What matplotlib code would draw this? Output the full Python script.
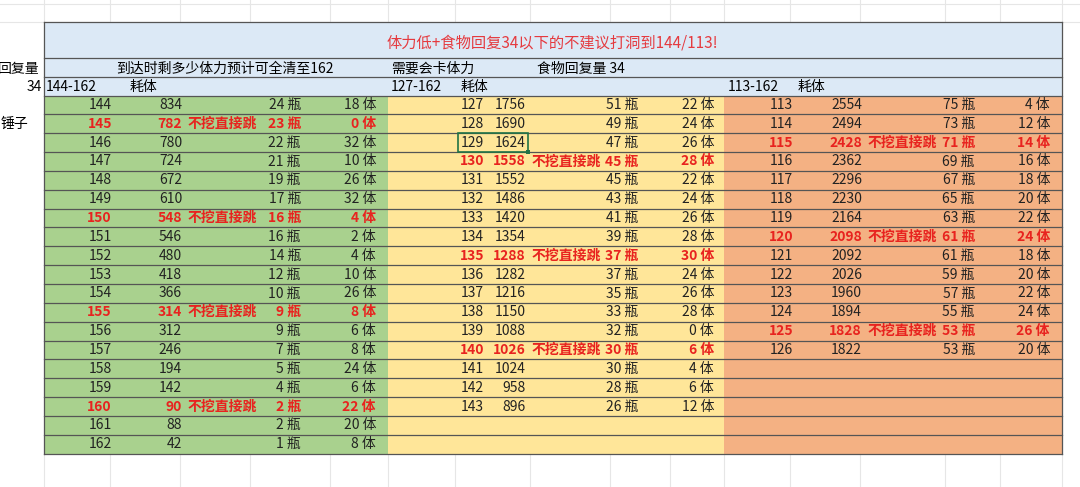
import matplotlib
matplotlib.use("Agg")
import matplotlib.pyplot as plt
from matplotlib.patches import Rectangle

plt.rcParams['font.family'] = ['Noto Sans CJK SC', 'DejaVu Sans']

title = "体力低+食物回复34以下的不建议打洞到144/113!"
skip = "不挖直接跳"

g_level = list(range(144, 163))
g_cost = [834,782,780,724,672,610,548,546,480,418,366,314,312,246,194,142,90,88,42]
g_bottle = [24,23,22,21,19,17,16,16,14,12,10,9,9,7,5,4,2,2,1]
g_rest = [18,0,32,10,26,32,4,2,4,10,26,8,6,8,24,6,22,20,8]
g_red = [145,150,155,160]

y_level = list(range(127, 144))
y_cost = [1756,1690,1624,1558,1552,1486,1420,1354,1288,1282,1216,1150,1088,1026,1024,958,896]
y_bottle = [51,49,47,45,45,43,41,39,37,37,35,33,32,30,30,28,26]
y_rest = [22,24,26,28,22,24,26,28,30,24,26,28,0,6,4,6,12]
y_red = [130,135,140]

o_level = list(range(113, 127))
o_cost = [2554,2494,2428,2362,2296,2230,2164,2098,2092,2026,1960,1894,1828,1822]
o_bottle = [75,73,71,69,67,65,63,61,61,59,57,55,53,53]
o_rest = [4,12,14,16,18,20,22,24,18,20,22,24,26,20]
o_red = [115,120,125]

W, H = 1080, 487
fig = plt.figure(figsize=(W/100, H/100), dpi=100)
ax = fig.add_axes([0, 0, 1, 1])
ax.set_xlim(0, W); ax.set_ylim(H, 0); ax.axis('off')
fig.patch.set_facecolor('white')

for gx in [44, 110, 180, 250, 330, 388, 455, 530, 610, 670, 724, 790, 860, 945, 1000, 1062]:
    ax.plot([gx, gx], [0, H], color='#e6e6e6', lw=0.8, zorder=0)
for gy in [4, 22]:
    ax.plot([0, W], [gy, gy], color='#e6e6e6', lw=0.8, zorder=0)

L, R = 44, 1062
top, r1, r2, r3 = 22, 58, 77, 95.5
rh = 18.85
nrows = 19
bottom = r3 + nrows * rh

ax.add_patch(Rectangle((L, top), R-L, r3-top, facecolor='#dce9f6', edgecolor='none', zorder=1))
sections = [(L, 388, '#a9d18e'), (388, 724, '#ffe699'), (724, R, '#f4b183')]
for x0, x1, c in sections:
    ax.add_patch(Rectangle((x0, r3), x1-x0, bottom-r3, facecolor=c, edgecolor='none', zorder=1))

lc = '#555555'
for yy in [top, r1, r2, r3] + [r3 + i*rh for i in range(1, nrows+1)]:
    ax.plot([L, R], [yy, yy], color=lc, lw=0.9, zorder=2)
ax.plot([L, L], [top, bottom], color=lc, lw=0.9, zorder=2)
ax.plot([R, R], [top, bottom], color=lc, lw=0.9, zorder=2)

fs = 10
ax.text(552, 43, title, color='#e53a3f', fontsize=11, ha='center', va='center', zorder=3)
ax.text(-2, 69, "回复量", fontsize=fs, va='center', zorder=3)
ax.text(42, 87, "34", fontsize=fs, va='center', ha='right', zorder=3)
ax.text(1, 124, "锤子", fontsize=fs, va='center', zorder=3)
ax.text(116, 69, "到达时剩多少体力预计可全清至162", fontsize=fs, va='center', zorder=3)
ax.text(391, 69, "需要会卡体力", fontsize=fs, va='center', zorder=3)
ax.text(537, 69, "食物回复量 34", fontsize=fs, va='center', zorder=3)
for x, lab, x2 in [(46, "144-162", 130), (391, "127-162", 461), (728, "113-162", 798)]:
    ax.text(x, 87, lab, fontsize=fs, va='center', zorder=3)
    ax.text(x2, 87, "耗体", fontsize=fs, va='center', zorder=3)

def draw(levels, costs, bottles, rests, reds, xs):
    xl, xc, xskip, xb, xr = xs
    for i, (lv, c, b, r) in enumerate(zip(levels, costs, bottles, rests)):
        yc = r3 + (i + 0.5) * rh
        red = lv in reds
        kw = dict(fontsize=fs, va='center', zorder=3,
                  color='#e8231f' if red else '#222222',
                  fontweight='bold' if red else 'normal')
        ax.text(xl, yc, str(lv), ha='right', **kw)
        ax.text(xc, yc, str(c), ha='right', **kw)
        if red:
            ax.text(xskip, yc, skip, ha='left', **kw)
        ax.text(xb, yc, f"{b} 瓶", ha='right', **kw)
        ax.text(xr, yc, f"{r} 体", ha='right', **kw)

draw(g_level, g_cost, g_bottle, g_rest, g_red, (112, 182, 188, 301, 376))
draw(y_level, y_cost, y_bottle, y_rest, y_red, (484, 526, 532, 638, 714))
draw(o_level, o_cost, o_bottle, o_rest, o_red, (793, 862, 868, 975, 1050))

sel_y = r3 + 2 * rh
ax.add_patch(Rectangle((458, sel_y), 70, rh, facecolor='none', edgecolor='#217346', lw=1.2, zorder=4))
ax.add_patch(Rectangle((526, sel_y + rh - 2), 4, 4, facecolor='#217346', edgecolor='none', zorder=5))

fig.savefig('out.png', dpi=100)
